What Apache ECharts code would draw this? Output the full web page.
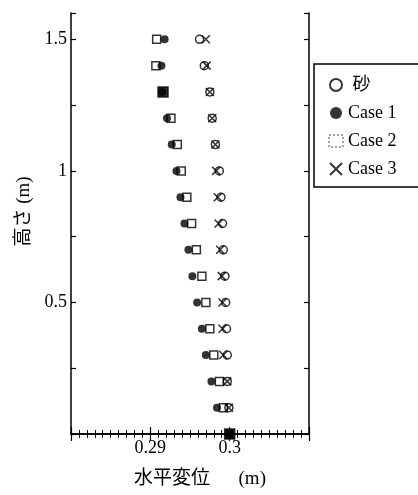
<!DOCTYPE html>
<html>
<head>
<meta charset="utf-8">
<script src="https://cdn.jsdelivr.net/npm/echarts@6/dist/echarts.min.js"></script>
<style>
  html, body { margin: 0; padding: 0; background: #fff; }
  #chart { width: 418px; height: 495px; }
</style>
</head>
<body>
<div id="chart"></div>
<script>
// Heights of the measurement points (m)
const heights = [0, 0.1, 0.2, 0.3, 0.4, 0.5, 0.6, 0.7, 0.8, 0.9, 1.0, 1.1, 1.2, 1.3, 1.4, 1.5];

// Horizontal displacement at each height (m)
const sand  = [0.3, 0.2999, 0.2997, 0.2997, 0.2996, 0.2995, 0.2994, 0.2992, 0.2991, 0.2989, 0.2987, 0.2982, 0.2978, 0.2975, 0.2968, 0.2962];
const case1 = [0.3, 0.2984, 0.2977, 0.2970, 0.2965, 0.2959, 0.2953, 0.2948, 0.2943, 0.2938, 0.2933, 0.2927, 0.2921, 0.2915, 0.2914, 0.2918];
const case2 = [0.3, 0.2992, 0.2987, 0.2980, 0.2975, 0.2970, 0.2965, 0.2958, 0.2952, 0.2946, 0.2939, 0.2934, 0.2926, 0.2916, 0.2907, 0.2908];
const case3 = [0.3, 0.2999, 0.2997, 0.2992, 0.2991, 0.2991, 0.2990, 0.2988, 0.2986, 0.2985, 0.2983, 0.2982, 0.2978, 0.2975, 0.2971, 0.2970];

const seriesNames = ['砂', 'Case 1', 'Case 2', 'Case 3'];
const xTickLabels = ['0.29', '0.3'];
const yTickLabels = ['0.5', '1', '1.5'];

const serif = '"Liberation Serif", "Noto Sans CJK JP", serif';
const cross = 'path://M0,0L10,10M0,10L10,0';

const pts = xs => xs.map((x, i) => [x, heights[i]]);

// Case 2 squares that sit on top of a Case 1 dot print as solid blocks
const case2Points = case2.map((x, i) => {
  const item = { value: [x, heights[i]] };
  if (Math.abs(x - case1[i]) < 0.00015) {
    item.itemStyle = { color: '#000' };
    item.symbolSize = 10;
  }
  return item;
});

function fmtX(v) {
  const hit = xTickLabels.find(t => Math.abs(parseFloat(t) - v) < 1e-6);
  return hit || '';
}
function fmtY(v) {
  const hit = yTickLabels.find(t => Math.abs(parseFloat(t) - v) < 1e-6);
  return hit || '';
}

const axisLine = { show: true, lineStyle: { color: '#000', width: 1.5 } };

function xAxisDef(pos, labels) {
  return {
    type: 'value', position: pos, min: 0.28, max: 0.31, interval: 0.01,
    axisLine: axisLine,
    axisTick: { show: true, inside: true, length: 7, lineStyle: { color: '#000', width: 1.2 } },
    minorTick: { show: true, splitNumber: 10, length: 4, lineStyle: { color: '#000', width: 1 } },
    splitLine: { show: false },
    axisLabel: { show: labels, formatter: fmtX, color: '#000', fontSize: 18, fontFamily: serif, margin: 5 }
  };
}
function yAxisDef(pos, labels) {
  return {
    type: 'value', position: pos, min: 0, max: 1.6, interval: 0.25,
    axisLine: axisLine,
    axisTick: { show: true, inside: true, length: 5, lineStyle: { color: '#000', width: 1.2 } },
    splitLine: { show: false },
    axisLabel: { show: labels, formatter: fmtY, color: '#000', fontSize: 18, fontFamily: serif, margin: 4 }
  };
}

const xMain = xAxisDef('bottom', true);
xMain.name = '水平変位\u3000  (m)';
xMain.nameLocation = 'middle';
xMain.nameGap = 36;
xMain.nameTextStyle = { color: '#000', fontSize: 19, fontFamily: serif, padding: [0, 0, 0, 20] };

const yMain = yAxisDef('left', true);
yMain.name = '高さ (m)';
yMain.nameLocation = 'middle';
yMain.nameGap = 35;
yMain.nameRotate = 90;
yMain.nameTextStyle = { color: '#000', fontSize: 19, fontFamily: serif, padding: [0, 0, 0, 24] };

const chart = echarts.init(document.getElementById('chart'), null, { renderer: 'canvas' });
chart.setOption({
  backgroundColor: '#fff',
  animation: false,
  grid: { left: 71, right: 109, top: 13, bottom: 61, containLabel: false },
  xAxis: [xMain, xAxisDef('top', false)],
  yAxis: [yMain, yAxisDef('right', false)],
  legend: {
    orient: 'vertical', left: 314, top: 64,
    padding: [12, 60, 9, 14],
    itemGap: 10, itemWidth: 14, itemHeight: 12,
    borderColor: '#000', borderWidth: 1.5,
    textStyle: { color: '#000', fontSize: 18, fontFamily: serif },
    formatter: name => (name === seriesNames[0] ? ' ' + name : name),
    data: [
      { name: seriesNames[0] },
      { name: seriesNames[1] },
      { name: seriesNames[2], itemStyle: { color: 'rgba(0,0,0,0)', borderColor: '#888', borderType: 'dotted' } },
      { name: seriesNames[3] }
    ]
  },
  series: [
    { name: seriesNames[0], type: 'scatter', data: pts(sand), symbol: 'circle', symbolSize: 8,
      itemStyle: { color: '#fff', borderColor: '#000', borderWidth: 1.5 } },
    { name: seriesNames[1], type: 'scatter', data: pts(case1), symbol: 'circle', symbolSize: 8,
      itemStyle: { color: '#000' } },
    { name: seriesNames[2], type: 'scatter', data: case2Points, symbol: 'rect', symbolSize: 8,
      itemStyle: { color: 'rgba(0,0,0,0)', borderColor: '#000', borderWidth: 1.5 } },
    { name: seriesNames[3], type: 'scatter', data: pts(case3), symbol: cross, symbolSize: 8,
      itemStyle: { color: 'rgba(0,0,0,0)', borderColor: '#000', borderWidth: 1.5 } }
  ]
});
</script>
</body>
</html>
